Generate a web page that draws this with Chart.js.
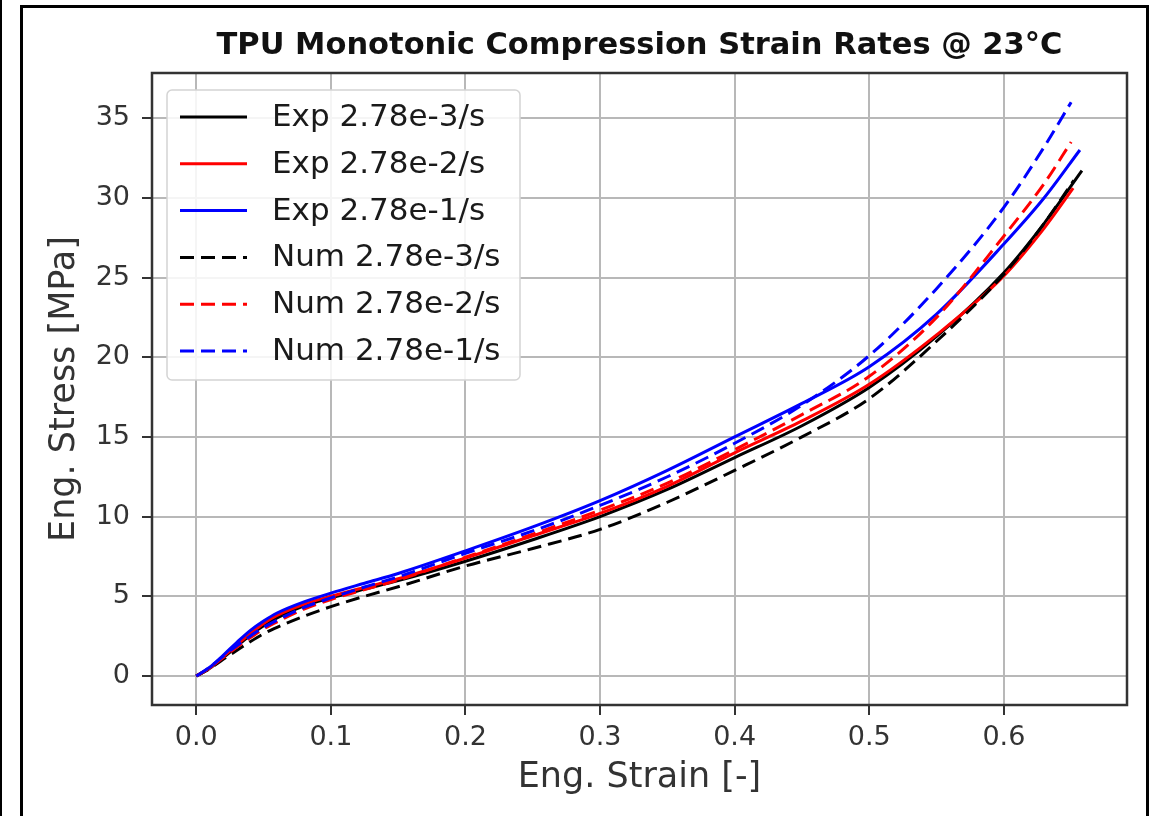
<!DOCTYPE html>
<html>
<head>
<meta charset="utf-8">
<title>TPU Monotonic Compression Strain Rates</title>
<script src="https://cdn.jsdelivr.net/npm/chart.js@4.4.1/dist/chart.umd.min.js"></script>
<style>
  html, body { margin: 0; padding: 0; background: #fff; overflow: hidden; }
  #wrap { position: relative; width: 1154px; height: 816px; }
  #edge { position: absolute; left: 0; top: 0; width: 2px; height: 816px; background: #000; }
  #frame { position: absolute; left: 20px; top: 5px; width: 1129px; height: 900px;
           box-sizing: border-box; border: 3px solid #000; pointer-events: none; }
</style>
</head>
<body>
<div id="wrap">
  <canvas id="stressChart" width="1154" height="816"></canvas>
  <div id="edge"></div>
  <div id="frame"></div>
</div>
<script>
// tick labels
const strainTicks = [0.0, 0.1, 0.2, 0.3, 0.4, 0.5, 0.6];
const stressTicks = [0, 5, 10, 15, 20, 25, 30, 35];

// legend labels
const seriesLabels = ['Exp 2.78e-3/s', 'Exp 2.78e-2/s', 'Exp 2.78e-1/s',
                      'Num 2.78e-3/s', 'Num 2.78e-2/s', 'Num 2.78e-1/s'];

// strain values, last entry is where each curve stops
const strainExp3 = [0, 0.01, 0.02, 0.03, 0.04, 0.05, 0.06, 0.08, 0.1, 0.125, 0.15, 0.2, 0.25, 0.3, 0.35, 0.4, 0.45, 0.5, 0.55, 0.6, 0.63, 0.658];
const strainExp2 = [0, 0.01, 0.02, 0.03, 0.04, 0.05, 0.06, 0.08, 0.1, 0.125, 0.15, 0.2, 0.25, 0.3, 0.35, 0.4, 0.45, 0.5, 0.55, 0.6, 0.63, 0.6515];
const strainExp1 = [0, 0.01, 0.02, 0.03, 0.04, 0.05, 0.06, 0.08, 0.1, 0.125, 0.15, 0.2, 0.25, 0.3, 0.35, 0.4, 0.45, 0.5, 0.55, 0.6, 0.63, 0.6565];
const strainNum3 = [0, 0.01, 0.02, 0.03, 0.04, 0.05, 0.06, 0.08, 0.1, 0.125, 0.15, 0.2, 0.25, 0.3, 0.35, 0.4, 0.45, 0.5, 0.55, 0.6, 0.63, 0.652];
const strainNum2 = [0, 0.01, 0.02, 0.03, 0.04, 0.05, 0.06, 0.08, 0.1, 0.125, 0.15, 0.2, 0.25, 0.3, 0.35, 0.4, 0.45, 0.5, 0.55, 0.6, 0.63, 0.65];
const strainNum1 = [0, 0.01, 0.02, 0.03, 0.04, 0.05, 0.06, 0.08, 0.1, 0.125, 0.15, 0.2, 0.25, 0.3, 0.35, 0.4, 0.45, 0.5, 0.55, 0.6, 0.63, 0.65];

// stress values [MPa]
const stressExp3 = [0, 0.48, 1.15, 1.85, 2.55, 3.15, 3.65, 4.4, 4.9, 5.45, 5.98, 7.2, 8.55, 10.0, 11.7, 13.7, 15.7, 18.1, 21.3, 25.3, 28.4, 31.7];
const stressExp2 = [0, 0.5, 1.2, 1.95, 2.65, 3.3, 3.8, 4.5, 5.0, 5.56, 6.1, 7.4, 8.8, 10.2, 11.9, 14.0, 16.0, 18.3, 21.4, 25.1, 28.1, 30.6];
const stressExp1 = [0, 0.55, 1.3, 2.1, 2.85, 3.45, 3.95, 4.65, 5.2, 5.82, 6.43, 7.85, 9.35, 11.0, 12.9, 15.0, 17.1, 19.4, 22.7, 27.1, 30.0, 33.0];
const stressNum3 = [0, 0.45, 1.05, 1.6, 2.15, 2.65, 3.05, 3.75, 4.35, 5.0, 5.6, 6.9, 8.0, 9.2, 10.9, 12.9, 15.0, 17.4, 21.0, 25.2, 28.4, 31.1];
const stressNum2 = [0, 0.5, 1.15, 1.8, 2.4, 2.95, 3.4, 4.2, 4.8, 5.42, 6.02, 7.45, 8.9, 10.4, 12.1, 14.2, 16.4, 18.8, 22.5, 27.6, 30.9, 33.5];
const stressNum1 = [0, 0.55, 1.25, 1.9, 2.5, 3.05, 3.5, 4.3, 4.9, 5.58, 6.22, 7.7, 9.1, 10.7, 12.5, 14.6, 17.0, 20.1, 24.3, 29.4, 33.2, 36.0];

const strainSets = [strainExp3, strainExp2, strainExp1, strainNum3, strainNum2, strainNum1];
const stressSets = [stressExp3, stressExp2, stressExp1, stressNum3, stressNum2, stressNum1];
const lineColors = ['#000000', '#ff0000', '#0000ff', '#000000', '#ff0000', '#0000ff'];
const dashed = [false, false, false, true, true, true];

const FONT = "'DejaVu Sans', sans-serif";

function toPoints(xs, ys) {
    return xs.map((x, i) => ({ x: x, y: ys[i] }));
}

const datasets = seriesLabels.map((label, i) => ({
    label: label,
    data: toPoints(strainSets[i], stressSets[i]),
    borderColor: lineColors[i],
    backgroundColor: lineColors[i],
    borderWidth: 3,
    borderDash: dashed[i] ? [14, 7] : [],
    pointRadius: 0,
    fill: false,
    cubicInterpolationMode: 'monotone',
    order: seriesLabels.length - i   // later series on top, like matplotlib
}));

// axes frame + legend box inside the plot
const framePlugin = {
    id: 'framePlugin',
    afterDatasetsDraw(chart) {
        const ctx = chart.ctx;
        const a = chart.chartArea;
        ctx.save();
        ctx.strokeStyle = '#333';
        ctx.lineWidth = 2.5;
        ctx.setLineDash([]);
        ctx.strokeRect(a.left, a.top, a.right - a.left, a.bottom - a.top);

        // legend
        const lx = 167, ly = 90, lw = 353, lh = 290;
        ctx.beginPath();
        ctx.roundRect(lx, ly, lw, lh, 5);
        ctx.fillStyle = 'rgba(255,255,255,0.85)';
        ctx.fill();
        ctx.strokeStyle = '#d4d4d4';
        ctx.lineWidth = 1.5;
        ctx.stroke();

        ctx.font = '31px ' + FONT;
        ctx.textBaseline = 'middle';
        ctx.textAlign = 'left';
        chart.data.datasets.forEach((ds, i) => {
            const y = 117 + i * 46.8;
            ctx.beginPath();
            ctx.strokeStyle = ds.borderColor;
            ctx.lineWidth = ds.borderWidth;
            ctx.setLineDash(ds.borderDash);
            ctx.moveTo(180, y);
            ctx.lineTo(247, y);
            ctx.stroke();
            ctx.setLineDash([]);
            ctx.fillStyle = '#1a1a1a';
            ctx.fillText(ds.label, 272, y + 1);
        });
        ctx.restore();
    }
};

const ctx = document.getElementById('stressChart').getContext('2d');
const stressChart = new Chart(ctx, {
    type: 'line',
    data: { datasets: datasets },
    options: {
        responsive: false,
        animation: false,
        layout: { padding: { left: 0, right: 27, top: 0, bottom: 0 } },
        plugins: {
            legend: { display: false },
            tooltip: { enabled: false },
            title: {
                display: true,
                text: 'TPU Monotonic Compression Strain Rates @ 23°C',
                fullSize: false,
                color: '#111',
                font: { family: FONT, size: 30.5, weight: 'bold' },
                padding: { top: 28, bottom: 8.4 }
            }
        },
        scales: {
            x: {
                type: 'linear',
                min: -0.0329,
                max: 0.6915,
                afterFit(scale) { scale.height = 111; },
                afterBuildTicks(scale) { scale.ticks = strainTicks.map(v => ({ value: v })); },
                ticks: {
                    color: '#333',
                    font: { family: FONT, size: 27 },
                    padding: 7,
                    maxRotation: 0,
                    callback: v => v.toFixed(1)
                },
                grid: { color: '#b8b8b8', lineWidth: 2, tickColor: '#333', tickLength: 10, tickWidth: 2 },
                border: { display: false },
                title: {
                    display: true,
                    text: 'Eng. Strain [-]',
                    color: '#333',
                    font: { family: FONT, size: 35 },
                    padding: { top: 0, bottom: 17 }
                }
            },
            y: {
                type: 'linear',
                min: -1.82,
                max: 37.83,
                afterFit(scale) { scale.width = 152; },
                afterBuildTicks(scale) { scale.ticks = stressTicks.map(v => ({ value: v })); },
                ticks: {
                    color: '#333',
                    font: { family: FONT, size: 27 },
                    padding: 12,
                    callback: v => String(v)
                },
                grid: { color: '#b8b8b8', lineWidth: 2, tickColor: '#333', tickLength: 10, tickWidth: 2 },
                border: { display: false },
                title: {
                    display: true,
                    text: 'Eng. Stress [MPa]',
                    color: '#333',
                    font: { family: FONT, size: 35 },
                    padding: { top: 44, bottom: 0 }
                }
            }
        }
    },
    plugins: [framePlugin]
});
</script>
</body>
</html>
